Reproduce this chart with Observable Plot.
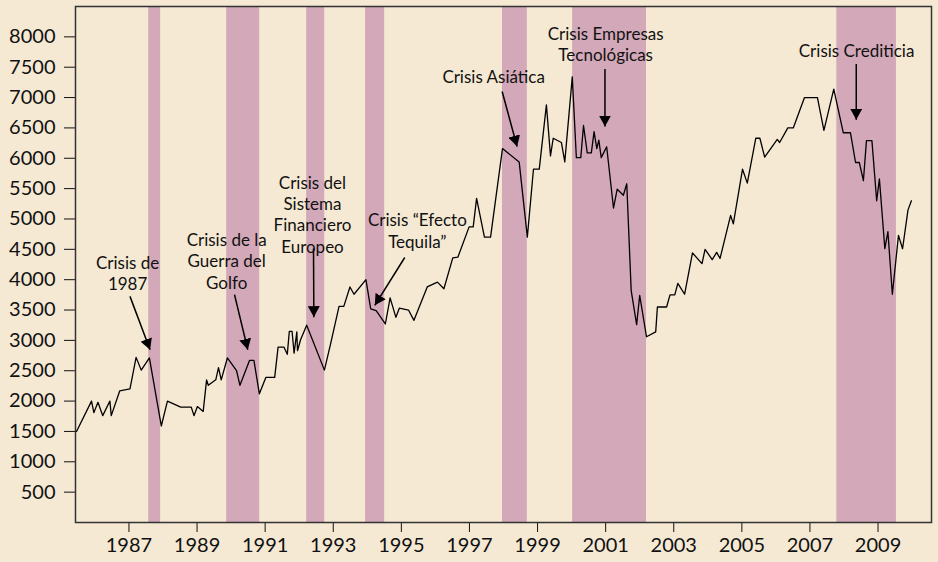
<!DOCTYPE html>
<html><head><meta charset="utf-8">
<script src="https://cdn.jsdelivr.net/npm/d3@7"></script>
<script src="https://cdn.jsdelivr.net/npm/@observablehq/plot@0.6"></script>
<style>
html,body{margin:0;padding:0;background:#F5E9D4;}
#chart{width:938px;height:562px;}
</style></head><body><div id="chart"></div>
<script>
// Index series (year, value)
const years = [1985.46,1985.90,1985.97,1986.09,1986.23,1986.44,1986.48,1986.73,1987.03,1987.21,1987.36,1987.60,1987.95,1988.13,1988.52,1988.83,1988.91,1989.01,1989.18,1989.28,1989.33,1989.55,1989.63,1989.71,1989.89,1990.16,1990.26,1990.54,1990.67,1990.83,1991.02,1991.28,1991.38,1991.55,1991.65,1991.71,1991.79,1991.85,1991.93,1991.95,1992.04,1992.22,1992.74,1992.92,1993.17,1993.31,1993.49,1993.61,1993.96,1994.10,1994.26,1994.53,1994.67,1994.84,1994.94,1995.21,1995.37,1995.76,1996.06,1996.25,1996.51,1996.66,1996.99,1997.11,1997.21,1997.44,1997.62,1997.97,1998.46,1998.70,1998.88,1999.05,1999.26,1999.38,1999.46,1999.70,1999.80,2000.02,2000.14,2000.27,2000.35,2000.46,2000.58,2000.66,2000.74,2000.80,2000.87,2001.03,2001.23,2001.34,2001.52,2001.62,2001.75,2001.91,2002.00,2002.20,2002.47,2002.52,2002.79,2002.89,2003.03,2003.12,2003.32,2003.55,2003.83,2003.92,2004.13,2004.26,2004.36,2004.67,2004.75,2005.02,2005.16,2005.41,2005.53,2005.67,2006.04,2006.11,2006.35,2006.51,2006.84,2007.22,2007.41,2007.70,2007.98,2008.19,2008.34,2008.45,2008.57,2008.66,2008.82,2008.96,2009.04,2009.20,2009.29,2009.42,2009.60,2009.72,2009.88,2009.98];
const values = [1500,2000,1810,1980,1760,2000,1760,2170,2200,2720,2510,2710,1590,2000,1900,1900,1760,1910,1830,2350,2260,2350,2550,2350,2710,2500,2260,2670,2670,2120,2390,2390,2890,2890,2770,3150,3150,2790,3140,2830,3010,3250,2510,2940,3560,3560,3880,3760,4000,3520,3490,3270,3700,3380,3530,3500,3330,3880,3960,3850,4360,4370,4870,4870,5340,4700,4700,6160,5940,4700,5820,5820,6880,6040,6330,6260,5940,7340,6010,6010,6540,6090,6090,6440,6160,6300,6010,6190,5180,5490,5390,5580,3820,3260,3740,3060,3140,3550,3550,3750,3750,3940,3760,4440,4265,4500,4330,4450,4350,5060,4920,5820,5590,6330,6330,6020,6310,6260,6500,6500,7000,7000,6460,7140,6420,6420,5930,5930,5630,6290,6290,5300,5660,4510,4790,3760,4730,4510,5150,5300];

// Crisis periods (shaded bands)
const bandStart = [1987.58,1989.87,1992.22,1993.95,1997.97,2000.03,2007.79];
const bandEnd   = [1987.93,1990.84,1992.75,1994.51,1998.70,2002.20,2009.54];

// Annotation labels
const labelText = ["Crisis de\n1987","Crisis de la\nGuerra del\nGolfo","Crisis del\nSistema\nFinanciero\nEuropeo","Crisis \u201cEfecto\nTequila\u201d","Crisis Asiática","Crisis Empresas\nTecnológicas","Crisis Crediticia"];
const labelYear  = [1986.96,1989.87,1992.39,1995.47,1997.71,2001.00,2008.37];
const labelValue = [4113,4315,5082,4816,7348,7888,7778];

// Annotation arrows (from -> to)
const arrowYear1  = [1987.03,1990.10,1992.42,1995.10,1997.96,2000.98,2008.36];
const arrowValue1 = [3725,3753,4513,4365,7100,7470,7553];
const arrowYear2  = [1987.62,1990.49,1992.43,1994.22,1998.40,2000.98,2008.36];
const arrowValue2 = [2845,2845,3383,3577,6192,6522,6633];

const xTicks = [1987,1989,1991,1993,1995,1997,1999,2001,2003,2005,2007,2009];
const yTicks = [500,1000,1500,2000,2500,3000,3500,4000,4500,5000,5500,6000,6500,7000,7500,8000];

const series = years.map((t, i) => ({t, v: values[i]}));
const bands = bandStart.map((s, i) => ({s, e: bandEnd[i]}));
const labels = labelText.map((text, i) => ({text, x: labelYear[i], y: labelValue[i]}));
const arrows = arrowYear1.map((x1, i) => ({x1, y1: arrowValue1[i], x2: arrowYear2[i], y2: arrowValue2[i]}));

const plot = Plot.plot({
  width: 938, height: 562,
  marginLeft: 75, marginRight: 7, marginTop: 6, marginBottom: 40,
  style: {background: "#F5E9D4", fontFamily: "Lato, 'Open Sans', sans-serif", fontSize: "20px", color: "#111", overflow: "visible"},
  x: {domain: [1985.43, 2010.57], ticks: xTicks, tickFormat: d => String(d), tickSize: 10, tickPadding: 5, label: null},
  y: {domain: [0, 8500], ticks: yTicks, tickFormat: d => String(d), tickSize: 11, tickPadding: 9, label: null},
  marks: [
    Plot.rect(bands, {x1: "s", x2: "e", fill: "#D3A8B9"}),
    Plot.frame({stroke: "#333", strokeWidth: 1.5}),
    Plot.line(series, {x: "t", y: "v", stroke: "#000", strokeWidth: 1.3}),
    Plot.link(arrows, {x1: "x1", y1: "y1", x2: "x2", y2: "y2", stroke: "#000", strokeWidth: 1.5}),
    Plot.text(labels, {x: "x", y: "y", text: "text", fontSize: 17, lineHeight: 1.25, fill: "#111"})
  ]
});

// Filled triangular arrowheads
const svgNS = "http://www.w3.org/2000/svg";
const defs = document.createElementNS(svgNS, "defs");
const marker = document.createElementNS(svgNS, "marker");
marker.setAttribute("id", "tri-head");
marker.setAttribute("viewBox", "0 0 10 10");
marker.setAttribute("refX", "10");
marker.setAttribute("refY", "5");
marker.setAttribute("markerUnits", "userSpaceOnUse");
marker.setAttribute("markerWidth", "11");
marker.setAttribute("markerHeight", "12");
marker.setAttribute("preserveAspectRatio", "none");
marker.setAttribute("orient", "auto");
const mp = document.createElementNS(svgNS, "path");
mp.setAttribute("d", "M0,0L10,5L0,10Z");
mp.setAttribute("fill", "#000");
marker.appendChild(mp);
defs.appendChild(marker);
plot.insertBefore(defs, plot.firstChild);
plot.querySelectorAll('g[aria-label="link"] path, g[aria-label="link"] line').forEach(p => p.setAttribute("marker-end", "url(#tri-head)"));

document.getElementById("chart").appendChild(plot);
</script></body></html>
